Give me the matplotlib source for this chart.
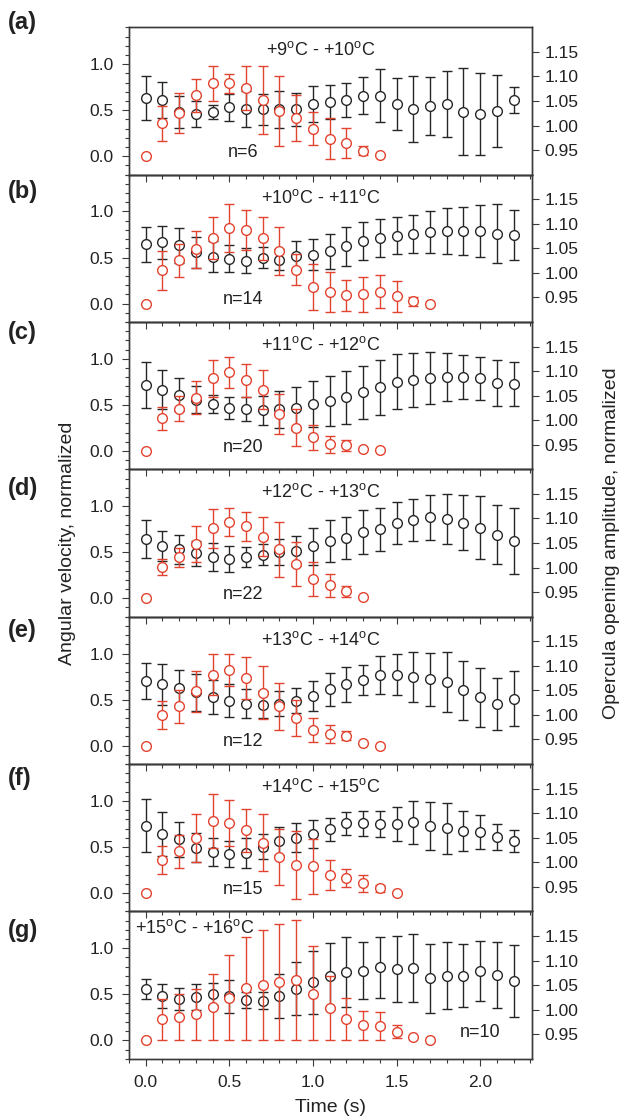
import matplotlib
matplotlib.use('Agg')
import matplotlib.pyplot as plt
import numpy as np
from matplotlib.ticker import MultipleLocator, FormatStrFormatter

plt.rcParams['font.family'] = ['Liberation Sans', 'DejaVu Sans']
plt.rcParams['mathtext.fontset'] = 'custom'
plt.rcParams['mathtext.rm'] = 'Liberation Sans'
plt.rcParams['mathtext.it'] = 'Liberation Sans:italic'

# ---------------- data ----------------
time_s = [0.0, 0.1, 0.2, 0.3, 0.4, 0.5, 0.6, 0.7, 0.8, 0.9, 1.0, 1.1,
          1.2, 1.3, 1.4, 1.5, 1.6, 1.7, 1.8, 1.9, 2.0, 2.1, 2.2]

panel_letters = ['(a)', '(b)', '(c)', '(d)', '(e)', '(f)', '(g)']
temp_ranges = ['+9$^{\\mathrm{o}}$C - +10$^{\\mathrm{o}}$C',
               '+10$^{\\mathrm{o}}$C - +11$^{\\mathrm{o}}$C',
               '+11$^{\\mathrm{o}}$C - +12$^{\\mathrm{o}}$C',
               '+12$^{\\mathrm{o}}$C - +13$^{\\mathrm{o}}$C',
               '+13$^{\\mathrm{o}}$C - +14$^{\\mathrm{o}}$C',
               '+14$^{\\mathrm{o}}$C - +15$^{\\mathrm{o}}$C',
               '+15$^{\\mathrm{o}}$C - +16$^{\\mathrm{o}}$C']
n_labels = ['n=6', 'n=14', 'n=20', 'n=22', 'n=12', 'n=15', 'n=10']

# angular velocity, normalized (red, left axis): mean and SD
red_a = [0.0, 0.36, 0.47, 0.66, 0.79, 0.79, 0.74, 0.61, 0.49, 0.42, 0.30, 0.19, 0.145, 0.06, 0.01]
red_a_sd = [0, 0.19, 0.22, 0.18, 0.185, 0.10, 0.24, 0.37, 0.38, 0.25, 0.18, 0.225, 0.165, 0.05, 0]
red_b = [0.0, 0.36, 0.47, 0.59, 0.71, 0.82, 0.80, 0.71, 0.57, 0.37, 0.18, 0.125, 0.09, 0.10, 0.13, 0.08, 0.025, 0.0]
red_b_sd = [0, 0.215, 0.18, 0.2, 0.23, 0.26, 0.215, 0.235, 0.26, 0.165, 0.25, 0.215, 0.17, 0.19, 0.18, 0.17, 0.05, 0]
red_c = [0.0, 0.355, 0.46, 0.58, 0.79, 0.855, 0.765, 0.665, 0.40, 0.25, 0.15, 0.07, 0.06, 0.02, 0.005]
red_c_sd = [0, 0.125, 0.14, 0.18, 0.2, 0.17, 0.18, 0.21, 0.215, 0.2, 0.135, 0.09, 0.06, 0, 0]
red_d = [0.0, 0.34, 0.445, 0.59, 0.76, 0.825, 0.78, 0.67, 0.53, 0.37, 0.21, 0.14, 0.075, 0.01]
red_d_sd = [0, 0.09, 0.1, 0.2, 0.21, 0.15, 0.16, 0.21, 0.3, 0.24, 0.18, 0.125, 0.06, 0]
red_e = [0.0, 0.33, 0.425, 0.59, 0.77, 0.82, 0.735, 0.575, 0.425, 0.30, 0.17, 0.127, 0.11, 0.025, 0.0]
red_e_sd = [0, 0.15, 0.175, 0.22, 0.22, 0.17, 0.23, 0.29, 0.25, 0.2, 0.13, 0.1, 0.05, 0, 0]
red_f = [0.0, 0.355, 0.455, 0.60, 0.78, 0.765, 0.68, 0.545, 0.39, 0.30, 0.29, 0.195, 0.16, 0.105, 0.05, 0.0]
red_f_sd = [0, 0.15, 0.18, 0.26, 0.29, 0.25, 0.23, 0.31, 0.305, 0.37, 0.3, 0.16, 0.1, 0.095, 0.04, 0]
red_g = [0.0, 0.23, 0.255, 0.285, 0.365, 0.465, 0.565, 0.60, 0.635, 0.66, 0.50, 0.355, 0.23, 0.165, 0.155, 0.09, 0.04, 0.0]
red_g_lo = [0, 0.23, 0.255, 0.285, 0.365, 0.465, 0.565, 0.60, 0.635, 0.66, 0.50, 0.355, 0.23, 0.165, 0.155, 0.07, 0, 0]
red_g_hi = [0, 0.22, 0.245, 0.27, 0.355, 0.46, 0.56, 0.60, 0.625, 0.65, 0.52, 0.345, 0.225, 0.155, 0.155, 0.08, 0, 0]

# opercula opening amplitude, normalized (black, right axis): mean and SD
black_a = [1.056, 1.052, 1.028, 1.024, 1.028, 1.037, 1.033, 1.033, 1.033, 1.033, 1.044, 1.048,
           1.052, 1.061, 1.061, 1.044, 1.033, 1.039, 1.044, 1.028, 1.024, 1.029, 1.052]
black_a_sd = [0.044, 0.037, 0.033, 0.026, 0.014, 0.028, 0.037, 0.032, 0.0375, 0.034, 0.0375, 0.035,
              0.034, 0.037, 0.054, 0.053, 0.067, 0.059, 0.068, 0.089, 0.083, 0.073, 0.026]
black_b = [1.058, 1.062, 1.056, 1.042, 1.033, 1.029, 1.025, 1.031, 1.027, 1.035, 1.037, 1.044,
           1.054, 1.065, 1.071, 1.076, 1.079, 1.083, 1.085, 1.085, 1.085, 1.080, 1.078]
black_b_sd = [0.036, 0.034, 0.035, 0.032, 0.031, 0.027, 0.026, 0.021, 0.021, 0.029, 0.031, 0.036,
              0.039, 0.038, 0.039, 0.037, 0.039, 0.043, 0.047, 0.049, 0.0525, 0.060, 0.051]
black_c = [1.071, 1.062, 1.052, 1.042, 1.033, 1.025, 1.023, 1.020, 1.022, 1.024, 1.033, 1.040,
           1.047, 1.057, 1.067, 1.078, 1.081, 1.086, 1.088, 1.088, 1.085, 1.076, 1.074]
black_c_sd = [0.047, 0.040, 0.034, 0.028, 0.019, 0.0225, 0.024, 0.030, 0.0375, 0.043, 0.047, 0.051,
              0.054, 0.054, 0.056, 0.056, 0.055, 0.0525, 0.049, 0.045, 0.044, 0.047, 0.045]
black_d = [1.058, 1.044, 1.037, 1.029, 1.022, 1.017, 1.021, 1.026, 1.032, 1.034, 1.043, 1.054,
           1.061, 1.073, 1.078, 1.090, 1.097, 1.102, 1.099, 1.091, 1.081, 1.067, 1.054]
black_d_sd = [0.039, 0.030, 0.029, 0.026, 0.029, 0.026, 0.020, 0.021, 0.026, 0.030, 0.0375, 0.043,
              0.043, 0.045, 0.044, 0.043, 0.043, 0.046, 0.050, 0.056, 0.064, 0.060, 0.067]
black_e = [1.069, 1.062, 1.054, 1.046, 1.037, 1.029, 1.023, 1.021, 1.023, 1.029, 1.038, 1.052,
           1.062, 1.071, 1.081, 1.082, 1.078, 1.073, 1.067, 1.050, 1.036, 1.022, 1.033]
black_e_sd = [0.0375, 0.041, 0.038, 0.0375, 0.035, 0.034, 0.029, 0.027, 0.025, 0.026, 0.031, 0.033,
              0.036, 0.031, 0.038, 0.042, 0.051, 0.054, 0.061, 0.060, 0.060, 0.0525, 0.056]
black_f = [1.074, 1.058, 1.047, 1.030, 1.021, 1.017, 1.019, 1.032, 1.043, 1.050, 1.058, 1.067,
           1.079, 1.079, 1.078, 1.078, 1.081, 1.073, 1.069, 1.064, 1.062, 1.052, 1.043]
black_f_sd = [0.054, 0.045, 0.036, 0.030, 0.029, 0.026, 0.030, 0.026, 0.029, 0.029, 0.028, 0.024,
              0.024, 0.025, 0.027, 0.035, 0.043, 0.049, 0.052, 0.041, 0.035, 0.026, 0.023]
black_g = [1.042, 1.028, 1.021, 1.026, 1.031, 1.027, 1.019, 1.018, 1.027, 1.043, 1.056, 1.069,
           1.076, 1.079, 1.086, 1.083, 1.084, 1.064, 1.069, 1.069, 1.079, 1.071, 1.059]
black_g_sd = [0.021, 0.024, 0.0225, 0.026, 0.0225, 0.033, 0.016, 0.017, 0.045, 0.054, 0.064, 0.067,
              0.071, 0.058, 0.062, 0.067, 0.069, 0.070, 0.068, 0.064, 0.061, 0.0675, 0.073]

red_means = [red_a, red_b, red_c, red_d, red_e, red_f, red_g]
red_errs = [red_a_sd, red_b_sd, red_c_sd, red_d_sd, red_e_sd, red_f_sd, [red_g_lo, red_g_hi]]
black_means = [black_a, black_b, black_c, black_d, black_e, black_f, black_g]
black_errs = [black_a_sd, black_b_sd, black_c_sd, black_d_sd, black_e_sd, black_f_sd, black_g_sd]

# ---------------- styling ----------------
RED = '#e2432e'
BLK = '#262626'
FRAME = '#3a3a3a'
W, H = 626, 1118
fig = plt.figure(figsize=(W / 100, H / 100), dpi=100)
fig.patch.set_facecolor('white')

left_px, right_px = 129, 532
top_px, panel_h = 27.3, 147.35
label_y = [23, 191, 333, 489, 630, 778, 930]
temp_pos = [(1.05, 1.15, 'center')] * 6 + [(-0.065, 1.22, 'left')]
n_pos = [(0.58, 0.04)] * 6 + [(2.0, 0.085)]


def draw_err(axis, t, m, e, color, z):
    t = np.asarray(t, float)
    m = np.asarray(m, float)
    if isinstance(e[0], (list, tuple)):
        lo = np.asarray(e[0], float)
        hi = np.asarray(e[1], float)
    else:
        lo = hi = np.asarray(e, float)
    keep = (lo + hi) > 0
    axis.errorbar(t[keep], m[keep], yerr=[lo[keep], hi[keep]], fmt='none',
                  ecolor=color, elinewidth=1.0, capsize=3.3, capthick=1.0, zorder=z)
    axis.plot(t, m, 'o', ms=7.0, mfc='white', mec=color, mew=1.0, zorder=z + 1)


for i in range(7):
    y0 = 1 - (top_px + (i + 1) * panel_h) / H
    ax = fig.add_axes([left_px / W, y0, (right_px - left_px) / W, panel_h / H])
    ax2 = ax.twinx()
    ax.set_zorder(ax2.get_zorder() + 1)
    ax.patch.set_visible(False)

    nb = len(black_means[i])
    nr = len(red_means[i])
    draw_err(ax2, time_s[:nb], black_means[i], black_errs[i], BLK, 2)
    draw_err(ax, time_s[:nr], red_means[i], red_errs[i], RED, 3)

    ax.set_xlim(-0.1, 2.31)
    ax.set_ylim(-0.2, 1.4)
    ax2.set_ylim(0.9, 1.2)

    ax.xaxis.set_major_locator(MultipleLocator(0.5))
    ax.xaxis.set_minor_locator(MultipleLocator(0.1))
    ax.xaxis.set_major_formatter(FormatStrFormatter('%.1f'))
    ax.set_yticks([0.0, 0.5, 1.0])
    ax.yaxis.set_minor_locator(MultipleLocator(0.1))
    ax.yaxis.set_major_formatter(FormatStrFormatter('%.1f'))
    ax2.set_yticks([0.95, 1.00, 1.05, 1.10, 1.15])
    ax2.yaxis.set_major_formatter(FormatStrFormatter('%.2f'))

    ax.tick_params(axis='both', which='major', direction='out', length=5, width=0.8,
                   color=FRAME, labelsize=12.5, labelcolor='#222222')
    ax.tick_params(axis='both', which='minor', direction='out', length=3, width=0.8,
                   color=FRAME)
    ax.tick_params(axis='y', which='both', pad=6)
    ax.tick_params(axis='x', which='major', pad=7, labelbottom=(i == 6))
    ax2.tick_params(axis='y', which='major', direction='out', length=5, width=0.8,
                    color=FRAME, labelsize=12.5, labelcolor='#222222', pad=4)
    for sp in list(ax.spines.values()) + list(ax2.spines.values()):
        sp.set_linewidth(1.0)
        sp.set_color(FRAME)

    tx, ty, tha = temp_pos[i]
    ax.text(tx, ty, temp_ranges[i], ha=tha, va='center', fontsize=13, color='#222222')
    ax.text(n_pos[i][0], n_pos[i][1], n_labels[i], ha='center', va='center',
            fontsize=13, color='#222222')

    fig.text(8 / W, 1 - label_y[i] / H, panel_letters[i], ha='left', va='center',
             fontsize=17, fontweight='bold', color='#222222')

mid_y = 1 - (top_px + 3.5 * panel_h) / H
fig.text(68 / W, mid_y, 'Angular velocity, normalized', rotation=90,
         ha='center', va='center', fontsize=14, color='#222222')
fig.text(612 / W, mid_y, 'Opercula opening amplitude, normalized', rotation=90,
         ha='center', va='center', fontsize=14, color='#222222')
fig.text((left_px + right_px) / 2 / W, 1 - 1108 / H, 'Time (s)', ha='center',
         va='center', fontsize=14, color='#222222')

fig.savefig('out.png', dpi=100, facecolor='white')
